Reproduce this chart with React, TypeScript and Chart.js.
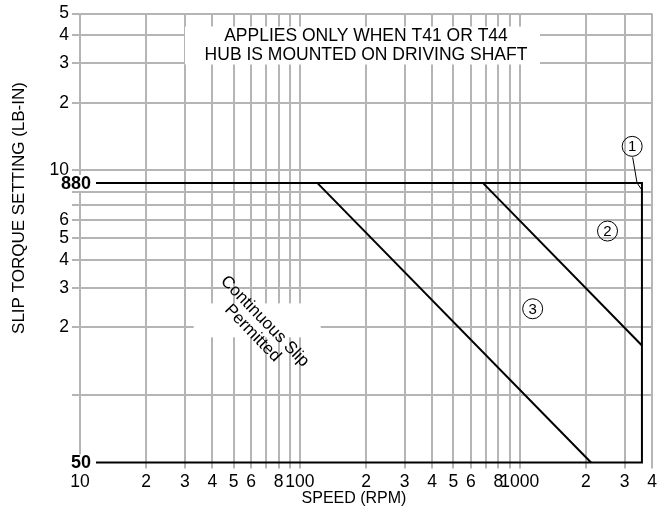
import React, { useEffect, useRef } from 'react';
import { Chart, registerables } from 'chart.js';

Chart.register(...registerables);

// ---- axes ----
const xTickValues = [10, 20, 30, 40, 50, 60, 70, 80, 90, 100, 200, 300, 400, 500, 600, 700, 800, 900, 1000, 2000, 3000, 4000];
const xTickLabels = ['10', '2', '3', '4', '5', '6', '', '8', '', '100', '2', '3', '4', '5', '6', '', '8', '', '1000', '2', '3', '4'];
const yTickValues = [100, 200, 300, 400, 500, 600, 700, 800, 1000, 2000, 3000, 4000, 5000];
const yTickLabels = ['', '2', '3', '4', '5', '6', '', '', '10', '2', '3', '4', '5'];

const xTitle = 'SPEED (RPM)';
const yTitle = 'SLIP TORQUE SETTING (LB-IN)';

// ---- curves ----
const limitSpeed = [10, 3600, 3600, 10];
const limitTorque = [880, 880, 50, 50];
const curve2Speed = [680, 3600];
const curve2Torque = [880, 166];
const curve3Speed = [120, 2112];
const curve3Torque = [880, 50];

// ---- annotations ----
const boldLabels = ['880', '50'];
const boldTorque = [880, 50];
const markerLabels = ['1', '2', '3'];
const markerSpeed = [3250, 2510, 1146];
const markerTorque = [1280, 537, 242];
const leaderSpeed = [3420, 3600];
const leaderTorque = [880, 817];
const noteLines = ['APPLIES ONLY WHEN T41 OR T44', 'HUB IS MOUNTED ON DRIVING SHAFT'];
const noteSpeed = 200;
const noteTorque = 3600;
const slipLines = ['Continuous Slip', 'Permitted'];
const slipSpeed = 65;
const slipTorque = 200;

const FONT = '"Liberation Sans", Arial, sans-serif';
const GRID = '#b5b5b5';

const pts = (xs: number[], ys: number[]) => xs.map((v, i) => ({ x: v, y: ys[i] }));

const overlayPlugin = {
  id: 'overlay',
  afterDatasetsDraw(chart: any) {
    const { ctx, chartArea } = chart;
    const xs = chart.scales.x;
    const ys = chart.scales.y;
    ctx.save();

    // bold line labels
    ctx.font = `bold 18px ${FONT}`;
    ctx.textAlign = 'right';
    ctx.textBaseline = 'middle';
    boldLabels.forEach((t, i) => {
      const py = ys.getPixelForValue(boldTorque[i]);
      const right = chartArea.left + 11;
      const w = ctx.measureText(t).width;
      ctx.fillStyle = '#fff';
      ctx.fillRect(right - w - 2, py - 8, w + 7, 16);
      ctx.fillStyle = '#000';
      ctx.fillText(t, right, py + 1);
    });

    // note box
    const nx = xs.getPixelForValue(noteSpeed);
    const ny = ys.getPixelForValue(noteTorque);
    ctx.fillStyle = '#fff';
    ctx.fillRect(nx - 181, ny - 19, 355, 38);
    ctx.fillStyle = '#000';
    ctx.font = `17.5px ${FONT}`;
    ctx.textAlign = 'center';
    ctx.textBaseline = 'middle';
    ctx.fillText(noteLines[0], nx, ny - 9.5);
    ctx.fillText(noteLines[1], nx, ny + 10);

    // continuous slip
    const sx = xs.getPixelForValue(slipSpeed);
    const sy = ys.getPixelForValue(slipTorque);
    ctx.fillStyle = '#fff';
    ctx.fillRect(sx - 65, sy - 24, 127, 34);
    ctx.save();
    ctx.translate(sx, sy);
    ctx.rotate((46 * Math.PI) / 180);
    ctx.fillStyle = '#000';
    ctx.font = `17px ${FONT}`;
    ctx.textAlign = 'center';
    ctx.textBaseline = 'middle';
    ctx.fillText(slipLines[0], 0, -8.5);
    ctx.fillText(slipLines[1], 0, 8.5);
    ctx.restore();

    // markers
    ctx.lineWidth = 1;
    ctx.strokeStyle = '#000';
    markerLabels.forEach((t, i) => {
      const cx = xs.getPixelForValue(markerSpeed[i]);
      const cy = ys.getPixelForValue(markerTorque[i]);
      ctx.beginPath();
      ctx.arc(cx, cy, 10, 0, Math.PI * 2);
      ctx.stroke();
      ctx.fillStyle = '#000';
      ctx.font = `15px ${FONT}`;
      ctx.textAlign = 'center';
      ctx.textBaseline = 'middle';
      ctx.fillText(t, cx, cy + 1);
      if (i === 0) {
        ctx.beginPath();
        ctx.moveTo(cx + 0.5, cy + 11);
        ctx.lineTo(xs.getPixelForValue(leaderSpeed[0]), ys.getPixelForValue(leaderTorque[0]));
        ctx.lineTo(xs.getPixelForValue(leaderSpeed[1]), ys.getPixelForValue(leaderTorque[1]));
        ctx.stroke();
      }
    });

    // axis titles
    ctx.fillStyle = '#000';
    ctx.font = `16px ${FONT}`;
    ctx.textAlign = 'center';
    ctx.textBaseline = 'middle';
    ctx.fillText(xTitle, 354, 499);
    ctx.save();
    ctx.translate(19, 208);
    ctx.rotate(-Math.PI / 2);
    ctx.font = `17px ${FONT}`;
    ctx.fillText(yTitle, 0, 0);
    ctx.restore();

    ctx.restore();
  },
};

export default function App() {
  const ref = useRef<HTMLCanvasElement | null>(null);

  useEffect(() => {
    if (!ref.current) return;
    const lineDs = (xs: number[], ys: number[]) => ({
      data: pts(xs, ys),
      showLine: true,
      borderColor: '#000',
      borderWidth: 2,
      pointRadius: 0,
      tension: 0,
      clip: false as any,
    });
    const chart = new Chart(ref.current, {
      type: 'scatter',
      data: {
        datasets: [
          lineDs(limitSpeed, limitTorque),
          lineDs(curve2Speed, curve2Torque),
          lineDs(curve3Speed, curve3Torque),
        ],
      },
      options: {
        animation: false,
        responsive: false,
        devicePixelRatio: 1,
        layout: { padding: { top: 12, right: 10, left: 0, bottom: 0 } },
        plugins: { legend: { display: false }, tooltip: { enabled: false } },
        scales: {
          x: {
            type: 'logarithmic',
            min: 10,
            max: 4000,
            afterBuildTicks: (s: any) => {
              s.ticks = xTickValues.map((v) => ({ value: v }));
            },
            afterFit: (s: any) => {
              s.height = 51.5;
            },
            ticks: {
              autoSkip: false,
              maxRotation: 0,
              padding: 3,
              color: '#000',
              font: { family: FONT, size: 17.5 },
              callback: (_v: any, i: number) => xTickLabels[i],
            },
            grid: { color: GRID, lineWidth: 2, tickLength: 6, drawTicks: true },
            border: { display: false },
          },
          y: {
            type: 'logarithmic',
            min: 50,
            max: 5000,
            afterBuildTicks: (s: any) => {
              s.ticks = yTickValues.map((v) => ({ value: v }));
            },
            afterFit: (s: any) => {
              s.width = 80;
            },
            ticks: {
              autoSkip: false,
              padding: 3,
              color: '#000',
              font: { family: FONT, size: 17.5 },
              callback: (_v: any, i: number) => yTickLabels[i],
            },
            grid: { color: GRID, lineWidth: 2, tickLength: 8, drawTicks: true },
            border: { display: false },
          },
        },
      },
      plugins: [overlayPlugin],
    });
    return () => chart.destroy();
  }, []);

  return (
    <div style={{ position: 'fixed', left: 0, top: 0, width: 662, height: 514, background: '#fff' }}>
      <canvas ref={ref} width={662} height={514} style={{ display: 'block', width: 662, height: 514 }} />
    </div>
  );
}
